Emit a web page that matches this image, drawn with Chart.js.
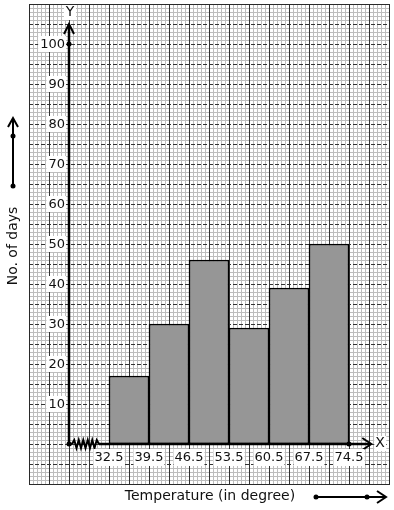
<!DOCTYPE html>
<html>
<head>
<meta charset="utf-8">
<script src="https://cdn.jsdelivr.net/npm/chart.js@4.4.1/dist/chart.umd.min.js"></script>
<style>
html,body{margin:0;padding:0;background:#fff;}
#wrap{width:394px;height:510px;position:relative;}
</style>
</head>
<body>
<div id="wrap"><canvas id="c" width="394" height="510"></canvas></div>
<script>
// ---- data ----
const classEdges = [32.5, 39.5, 46.5, 53.5, 60.5, 67.5, 74.5];
const frequencies = [17, 30, 46, 29, 39, 50];
const xTickLabels = ['32.5', '39.5', '46.5', '53.5', '60.5', '67.5', '74.5'];
const yTickValues = [10, 20, 30, 40, 50, 60, 70, 80, 90, 100];
const xAxisTitle = 'Temperature (in degree)';
const yAxisTitle = 'No. of days';

// graph-paper extents (data units)
const xMin = 18.5, xMax = 81.5, xMajor = 3.5, xMinorDiv = 5;
const yMin = -10, yMax = 110, yMajor = 5, yMinorDiv = 5;
const xOrigin = 25.5; // where the Y axis sits (with a kink)

const barData = frequencies.map((f, i) => ({ x: (classEdges[i] + classEdges[i + 1]) / 2, y: f }));

const FONT = '"DejaVu Sans", sans-serif';

const paperPlugin = {
  id: 'paper',
  beforeDatasetsDraw(chart) {
    const { ctx, chartArea: a, scales: { x, y } } = chart;
    ctx.save();
    ctx.fillStyle = '#fff';
    ctx.fillRect(a.left, a.top, a.right - a.left, a.bottom - a.top);
    // minor grid
    ctx.strokeStyle = '#bdbdbd';
    ctx.lineWidth = 1;
    ctx.beginPath();
    const nx = Math.round((xMax - xMin) / xMajor * xMinorDiv);
    for (let i = 0; i <= nx; i++) {
      if (i % xMinorDiv === 0) continue;
      const px = Math.round(x.getPixelForValue(xMin + i * xMajor / xMinorDiv)) + 0.5;
      ctx.moveTo(px, a.top); ctx.lineTo(px, a.bottom);
    }
    const ny = Math.round((yMax - yMin) / yMajor * yMinorDiv);
    for (let i = 0; i <= ny; i++) {
      if (i % yMinorDiv === 0) continue;
      const py = Math.round(y.getPixelForValue(yMin + i * yMajor / yMinorDiv)) + 0.5;
      ctx.moveTo(a.left, py); ctx.lineTo(a.right, py);
    }
    ctx.stroke();
    // major vertical (solid)
    ctx.strokeStyle = '#333';
    ctx.beginPath();
    for (let i = 0; i <= nx; i += xMinorDiv) {
      const px = Math.round(x.getPixelForValue(xMin + i * xMajor / xMinorDiv)) + 0.5;
      ctx.moveTo(px, a.top); ctx.lineTo(px, a.bottom);
    }
    ctx.stroke();
    // major horizontal (dashed)
    ctx.setLineDash([4, 2]);
    ctx.beginPath();
    for (let i = yMinorDiv; i < ny; i += yMinorDiv) {
      const py = Math.round(y.getPixelForValue(yMin + i * yMajor / yMinorDiv)) + 0.5;
      ctx.moveTo(a.left, py); ctx.lineTo(a.right, py);
    }
    ctx.stroke();
    ctx.setLineDash([]);
    // border
    ctx.strokeStyle = '#2a2a2a';
    ctx.strokeRect(Math.round(a.left) + 0.5, Math.round(a.top) + 0.5,
                   Math.round(a.right - a.left), Math.round(a.bottom - a.top));
    ctx.restore();
  },
  afterDatasetsDraw(chart) {
    const { ctx, chartArea: a, scales: { x, y } } = chart;
    const ox = Math.round(x.getPixelForValue(xOrigin));
    const oy = Math.round(y.getPixelForValue(0));
    const firstEdge = x.getPixelForValue(classEdges[0]);
    const lastEdge = x.getPixelForValue(classEdges[classEdges.length - 1]);
    ctx.save();
    ctx.strokeStyle = '#000';
    ctx.fillStyle = '#000';
    ctx.lineCap = 'butt';
    ctx.lineJoin = 'miter';
    // Y axis
    const yTop = y.getPixelForValue(105);
    ctx.lineWidth = 2.5;
    ctx.beginPath();
    ctx.moveTo(ox, oy); ctx.lineTo(ox, yTop + 1);
    ctx.stroke();
    ctx.lineWidth = 2;
    ctx.beginPath();
    ctx.moveTo(ox - 5, yTop + 10); ctx.lineTo(ox, yTop); ctx.lineTo(ox + 5, yTop + 10);
    ctx.stroke();
    // X axis with kink
    const xEnd = x.getPixelForValue(78.4);
    const kinkStart = ox + 3, kinkEnd = firstEdge - 10;
    ctx.lineWidth = 2.5;
    ctx.beginPath();
    ctx.moveTo(ox, oy); ctx.lineTo(kinkStart, oy);
    ctx.moveTo(kinkEnd, oy); ctx.lineTo(xEnd - 1, oy);
    ctx.stroke();
    ctx.lineWidth = 2;
    ctx.beginPath();
    ctx.moveTo(xEnd - 9, oy - 6); ctx.lineTo(xEnd, oy); ctx.lineTo(xEnd - 9, oy + 6);
    ctx.stroke();
    // zigzag
    ctx.lineWidth = 2;
    ctx.beginPath();
    const nz = 12;
    ctx.moveTo(kinkStart, oy);
    for (let i = 1; i <= nz; i++) {
      const px = kinkStart + (kinkEnd - kinkStart) * i / nz;
      const py = i === nz ? oy : oy + (i % 2 ? -4 : 4);
      ctx.lineTo(px, py);
    }
    ctx.stroke();
    // dots
    const dot = (px, py) => { ctx.beginPath(); ctx.arc(px, py, 2.5, 0, Math.PI * 2); ctx.fill(); };
    dot(ox, oy);
    dot(ox, y.getPixelForValue(100));
    dot(lastEdge, oy);

    // tick labels
    ctx.font = '13px ' + FONT;
    ctx.textBaseline = 'middle';
    ctx.textAlign = 'right';
    yTickValues.forEach(v => {
      const py = y.getPixelForValue(v);
      const t = String(v);
      const w = ctx.measureText(t).width;
      ctx.fillStyle = '#fff';
      ctx.fillRect(ox - 4 - w - 2, py - 8, w + 3, 16);
      ctx.fillStyle = '#111';
      ctx.fillText(t, ox - 4, py + 1);
    });
    ctx.textAlign = 'center';
    classEdges.forEach((v, i) => {
      const px = x.getPixelForValue(v);
      const t = xTickLabels[i];
      const w = ctx.measureText(t).width;
      ctx.fillStyle = '#fff';
      ctx.fillRect(px - w / 2 - 1, oy + 5, w + 2, 17);
      ctx.fillStyle = '#111';
      ctx.fillText(t, px, oy + 14);
    });
    // axis letters
    ctx.font = '14px ' + FONT;
    ctx.fillStyle = '#fff';
    ctx.fillRect(ox - 5, a.top + 1, 12, 15);
    ctx.fillRect(xEnd + 3, oy - 8, 12, 15);
    ctx.fillStyle = '#111';
    ctx.textAlign = 'center';
    ctx.fillText('Y', ox + 1, a.top + 8);
    ctx.textAlign = 'left';
    ctx.fillText('X', xEnd + 4, oy - 1);

    // x-axis title + arrow
    ctx.textAlign = 'center';
    ctx.fillStyle = '#111';
    ctx.fillText(xAxisTitle, 210, 496);
    ctx.strokeStyle = '#000';
    ctx.fillStyle = '#000';
    ctx.lineWidth = 2;
    ctx.beginPath();
    ctx.moveTo(316, 497); ctx.lineTo(385, 497);
    ctx.moveTo(377, 491); ctx.lineTo(386, 497); ctx.lineTo(377, 503);
    ctx.stroke();
    dot(316, 497); dot(367, 497);

    // y-axis title + arrow
    ctx.save();
    ctx.translate(13, 246);
    ctx.rotate(-Math.PI / 2);
    ctx.textAlign = 'center';
    ctx.fillStyle = '#111';
    ctx.fillText(yAxisTitle, 0, 0);
    ctx.restore();
    ctx.beginPath();
    ctx.moveTo(13, 186); ctx.lineTo(13, 119);
    ctx.moveTo(8, 127); ctx.lineTo(13, 118); ctx.lineTo(18, 127);
    ctx.stroke();
    dot(13, 136); dot(13, 186);
    ctx.restore();
  }
};

new Chart(document.getElementById('c'), {
  type: 'bar',
  data: {
    datasets: [{
      data: barData,
      backgroundColor: '#969696',
      borderColor: '#000',
      borderWidth: 1.5,
      barPercentage: 1.0,
      categoryPercentage: 1.0,
      borderSkipped: false
    }]
  },
  options: {
    responsive: false,
    animation: false,
    devicePixelRatio: 1,
    layout: { padding: { left: 29, top: 4, right: 5, bottom: 26 } },
    plugins: { legend: { display: false }, tooltip: { enabled: false }, title: { display: false } },
    scales: {
      x: {
        type: 'linear', min: xMin, max: xMax, display: false, offset: false,
        afterBuildTicks: (s) => { s.ticks = classEdges.map(v => ({ value: v })); }
      },
      y: { type: 'linear', min: yMin, max: yMax, display: false }
    }
  },
  plugins: [paperPlugin]
});
</script>
</body>
</html>
